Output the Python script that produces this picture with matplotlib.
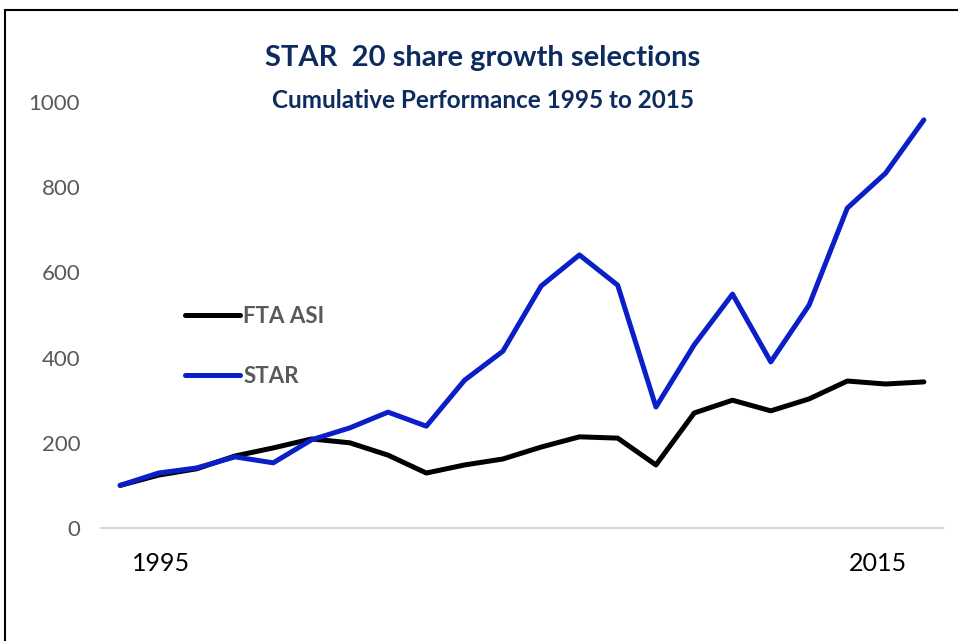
"""
STAR 20 share growth selections - cumulative performance chart
"""

import numpy as np
import matplotlib
matplotlib.use("Agg")
import matplotlib.pyplot as plt
from matplotlib.patches import Rectangle

# -----------------------------
# Data
# -----------------------------

years = list(range(1995, 2017))

fta_asi = [100, 124, 139, 169, 188, 209, 200, 171, 129, 148, 162,
           190, 214, 211, 148, 270, 300, 275, 303, 345, 338, 343]

star = [100, 129, 141, 167, 153, 207, 235, 272, 239, 347, 415,
        568, 641, 570, 284, 430, 549, 390, 523, 751, 833, 958]

y_ticks = [0, 200, 400, 600, 800, 1000]
x_tick_pos = [1.07, 19.8]
x_tick_labels = ["1995", "2015"]

TITLE_COLOR = "#0d2b5e"
TEXT_GRAY = "#595959"
BLUE = "#0b1fc8"

plt.rcParams["font.family"] = ["Lato", "DejaVu Sans"]


def main():

    fig = plt.figure(figsize=(9.58, 6.41), dpi=100)

    # outer frame (left and top edges visible)
    fig.patches.append(
        Rectangle(
            (5 / 958, -0.2), 1.2, 0.2 + (1 - 10 / 641),
            transform=fig.transFigure,
            fill=False, edgecolor="black", linewidth=1.5
        )
    )

    ax = fig.add_axes([101 / 958, 1 - 528 / 641,
                       (943 - 101) / 958, (528 - 102) / 641])

    x = np.arange(len(years))

    ax.plot(x, fta_asi, color="black", linewidth=3.6,
            solid_joinstyle="round", solid_capstyle="round", label="FTA ASI")
    ax.plot(x, star, color=BLUE, linewidth=3.6,
            solid_joinstyle="round", solid_capstyle="round", label="STAR")

    ax.set_xlim(-0.5, len(years) - 0.5)
    ax.set_ylim(0, 1000)

    ax.set_yticks(y_ticks)
    ax.set_yticklabels([str(v) for v in y_ticks], fontsize=16, color=TEXT_GRAY)
    ax.set_xticks(x_tick_pos)
    ax.set_xticklabels(x_tick_labels, fontsize=18, color="black")

    ax.tick_params(axis="y", length=0, pad=15)
    ax.tick_params(axis="x", length=0, pad=17)

    for side in ["top", "right", "left"]:
        ax.spines[side].set_visible(False)
    ax.spines["bottom"].set_color("#d9d9d9")
    ax.spines["bottom"].set_linewidth(1.5)

    fig.text(483 / 958, 1 - 58 / 641, "STAR  20 share growth selections",
             ha="center", va="center", fontsize=21, fontweight="bold",
             color=TITLE_COLOR)
    fig.text(483 / 958, 1 - 100 / 641, "Cumulative Performance 1995 to 2015",
             ha="center", va="center", fontsize=17.5, fontweight="bold",
             color=TITLE_COLOR)

    leg = fig.legend(
        loc="center left",
        bbox_to_anchor=(185 / 958, 1 - 346.5 / 641),
        frameon=False,
        fontsize=16,
        handlelength=2.48,
        handletextpad=0.14,
        labelspacing=1.75,
        borderpad=0,
        borderaxespad=0
    )
    for t in leg.get_texts():
        t.set_color(TEXT_GRAY)
        t.set_fontweight("bold")

    fig.savefig("out.png", dpi=100)
    plt.close(fig)


if __name__ == "__main__":
    main()
